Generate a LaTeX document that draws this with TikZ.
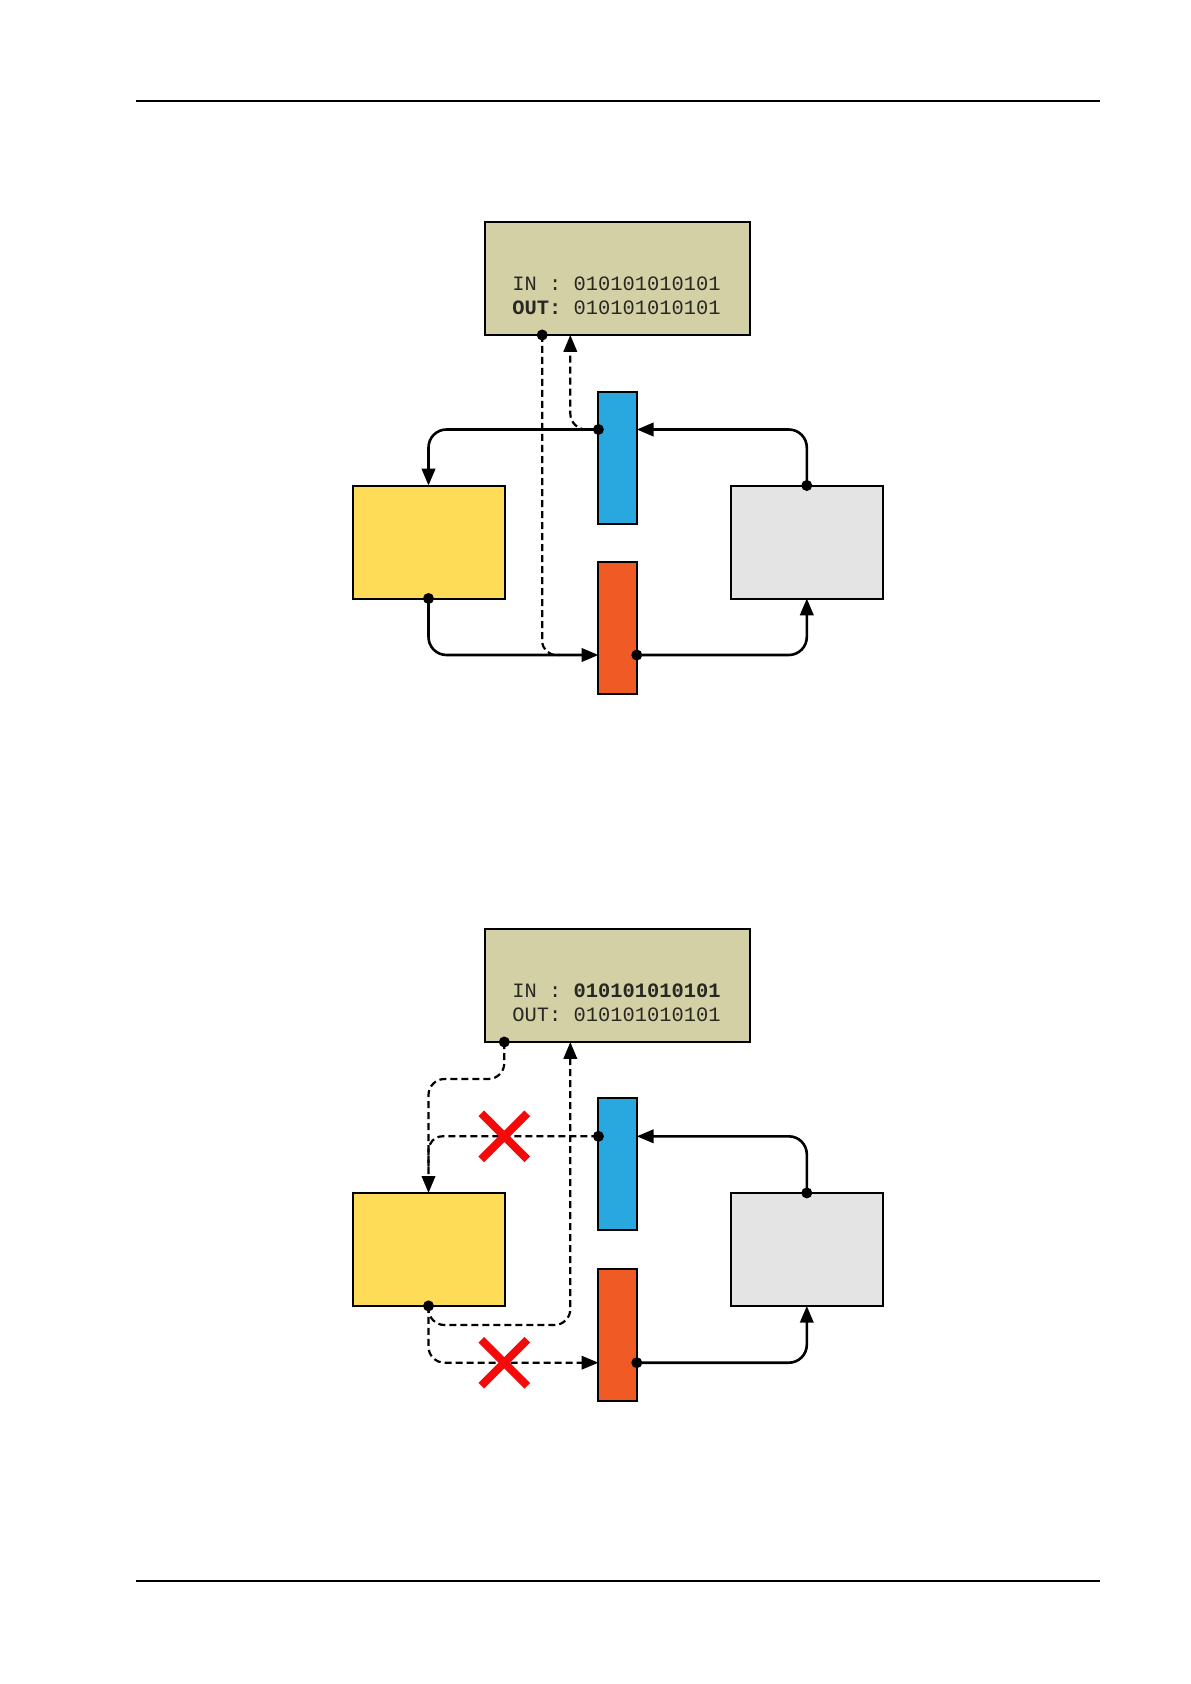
\documentclass[tikz,border=0pt]{standalone}
\usepackage{fontspec}
\setmonofont{Liberation Mono}
\usetikzlibrary{arrows.meta,calc,shapes.misc}
\definecolor{cLcd}{RGB}{212,208,166}
\definecolor{cYel}{RGB}{254,220,88}
\definecolor{cBlu}{RGB}{41,168,224}
\definecolor{cOrg}{RGB}{240,90,36}
\definecolor{cGry}{RGB}{228,228,228}
\definecolor{cRed}{RGB}{245,10,10}
\definecolor{cTxt}{RGB}{40,40,34}
\begin{document}
\begin{tikzpicture}[x=0.5pt,y=-0.5pt,
  boxnode/.style={draw,line width=1pt,inner sep=0,outer sep=0},
  lcdbox/.style={boxnode,fill=cLcd,minimum width=132.25pt,minimum height=56.35pt},
  bigbox/.style={boxnode,minimum width=76pt,minimum height=56.5pt},
  barbox/.style={boxnode,minimum width=19.2pt,minimum height=66pt},
  lcdtext/.style={anchor=base west,inner sep=0,text=cTxt,font=\ttfamily\fontsize{10.2}{12}\selectfont},
  conn/.style={line width=1.3pt,rounded corners=9pt,-{Triangle[length=8.4pt,width=6.7pt]}},
  dconn/.style={line width=1.1pt,dash pattern=on 3.5pt off 2pt,rounded corners=8pt,-{Triangle[length=8.4pt,width=6.7pt]}},
  dconnplain/.style={line width=1.1pt,dash pattern=on 3.5pt off 2pt,rounded corners=7pt},
  jdot/.style={circle,fill=black,inner sep=0,minimum size=5.5pt},
  redx/.style={cross out,draw=cRed,line width=4pt,inner sep=0,minimum width=19pt,minimum height=19pt}
]
\useasboundingbox (0,0) rectangle (1190,1684);
% page rules
\coordinate (rTL) at (136,101); \coordinate (rTR) at (1100,101);
\coordinate (rBL) at (136,1581); \coordinate (rBR) at (1100,1581);
\draw[line width=0.8pt] (rTL) -- (rTR);
\draw[line width=0.8pt] (rBL) -- (rBR);

% ================= panel 1 =================
\node[lcdbox] (lcd1) at (617.7,278.6) {};
\node[lcdtext] (in1) at (512,291) {IN : 010101010101};
\node[lcdtext] (out1) at (512,315) {\textbf{OUT:} 010101010101};
\node[bigbox,fill=cYel] (yel1) at (428.5,542) {};
\node[bigbox,fill=cGry] (gry1) at (806.8,542) {};
\node[barbox,fill=cBlu] (blu1) at (617.6,458) {};
\node[barbox,fill=cOrg] (org1) at (617.6,627.7) {};

\coordinate (h1a) at (0,429.5);
\coordinate (h1b) at (0,655);
\coordinate (lcd1d) at (542.2,335);
\coordinate (lcd1a) at (570.3,335);
\coordinate (blu1w) at (blu1.west |- h1a);
\coordinate (blu1e) at (blu1.east |- h1a);
\coordinate (org1w) at (org1.west |- h1b);
\coordinate (org1e) at (org1.east |- h1b);
\coordinate (dash1end) at (560,655);

\draw[dconnplain] (lcd1d) -- (lcd1d |- h1b) -- (dash1end);
\draw[dconn] (blu1w) -- (lcd1a |- h1a) -- (lcd1a);
\draw[conn] (blu1w) -- (yel1.north |- h1a) -- (yel1.north);
\draw[conn] (gry1.north) -- (gry1.north |- h1a) -- (blu1e);
\draw[conn] (yel1.south) -- (yel1.south |- h1b) -- (org1w);
\draw[conn] (org1e) -- (gry1.south |- h1b) -- (gry1.south);

\node[jdot] (dA1) at (lcd1d) {};
\node[jdot] (dB1) at (blu1w) {};
\node[jdot] (dG1) at (gry1.north) {};
\node[jdot] (dY1) at (yel1.south) {};
\node[jdot] (dO1) at (org1e) {};

% ================= panel 2 =================
\node[lcdbox] (lcd2) at (617.7,985.3) {};
\node[lcdtext] (in2) at (512,997.5) {IN : \textbf{010101010101}};
\node[lcdtext] (out2) at (512,1021.5) {OUT: 010101010101};
\node[bigbox,fill=cYel] (yel2) at (428.5,1249.4) {};
\node[bigbox,fill=cGry] (gry2) at (806.8,1249.4) {};
\node[barbox,fill=cBlu] (blu2) at (617.6,1164.4) {};
\node[barbox,fill=cOrg] (org2) at (617.6,1334.7) {};

\coordinate (h2a) at (0,1136.3);
\coordinate (h2b) at (0,1362.7);
\coordinate (h2c) at (0,1079);
\coordinate (h2d) at (0,1325);
\coordinate (lcd2d) at (504.3,1042);
\coordinate (lcd2a) at (570.3,1042);
\coordinate (blu2w) at (blu2.west |- h2a);
\coordinate (blu2e) at (blu2.east |- h2a);
\coordinate (org2w) at (org2.west |- h2b);
\coordinate (org2e) at (org2.east |- h2b);
\coordinate (dash2end) at (428.5,1168);

\draw[dconn] (lcd2d) -- (lcd2d |- h2c) -- (yel2.north |- h2c) -- (yel2.north);
\draw[dconnplain] (blu2w) -- (yel2.north |- h2a) -- (dash2end);
\draw[dconn] (yel2.south) -- (yel2.south |- h2b) -- (org2w);
\draw[dconn] (yel2.south) -- (yel2.south |- h2d) -- (lcd2a |- h2d) -- (lcd2a);
\draw[conn] (gry2.north) -- (gry2.north |- h2a) -- (blu2e);
\draw[conn] (org2e) -- (gry2.south |- h2b) -- (gry2.south);

\node[jdot] (dA2) at (lcd2d) {};
\node[jdot] (dB2) at (blu2w) {};
\node[jdot] (dG2) at (gry2.north) {};
\node[jdot] (dY2) at (yel2.south) {};
\node[jdot] (dO2) at (org2e) {};

\node[redx] (x1) at (504.3,1136.3) {};
\node[redx] (x2) at (504.3,1362.7) {};
\end{tikzpicture}
\end{document}
